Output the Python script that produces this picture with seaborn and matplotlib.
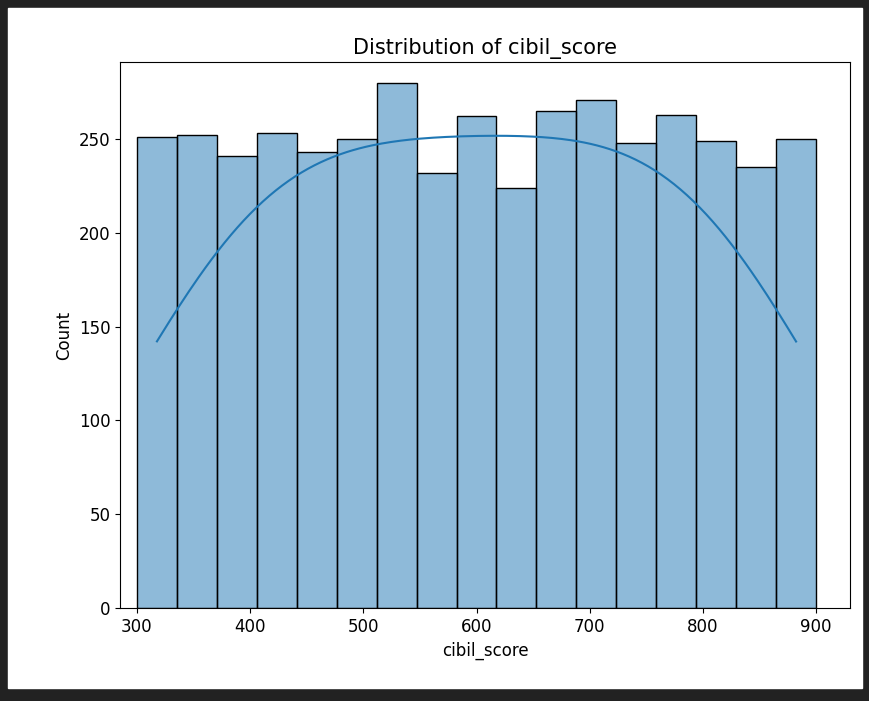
import numpy as np
import matplotlib
matplotlib.use("Agg")
import matplotlib.pyplot as plt
import seaborn as sns
from matplotlib.patches import Rectangle

bin_edges = np.linspace(300, 900, 18)
bin_centers = (bin_edges[:-1] + bin_edges[1:]) / 2
counts = [251, 252, 241, 253, 243, 250, 280, 232, 262, 224, 265, 271, 248, 263, 249, 235, 250]

fig = plt.figure(figsize=(8.69, 7.01), dpi=100, facecolor="#222222")
bg = fig.add_axes([0, 0, 1, 1], zorder=-10)
bg.set_axis_off()
bg.add_patch(Rectangle((8/869, 13/701), (862-8)/869, (693-13)/701,
                       transform=bg.transAxes, color="white"))
ax = fig.add_axes([120/869, 1-608/701, (850-120)/869, (608-62)/701])
sns.histplot(x=bin_centers, weights=counts, bins=17, binrange=(300, 900), kde=True, ax=ax)
ax.set_xlim(285, 930)
ax.set_ylim(0, 291)
ax.set_title("Distribution of cibil_score", fontsize=15)
ax.set_xlabel("cibil_score", fontsize=12)
ax.set_ylabel("Count", fontsize=12)
ax.tick_params(labelsize=12)
fig.savefig("out.png", dpi=100, facecolor=fig.get_facecolor())
